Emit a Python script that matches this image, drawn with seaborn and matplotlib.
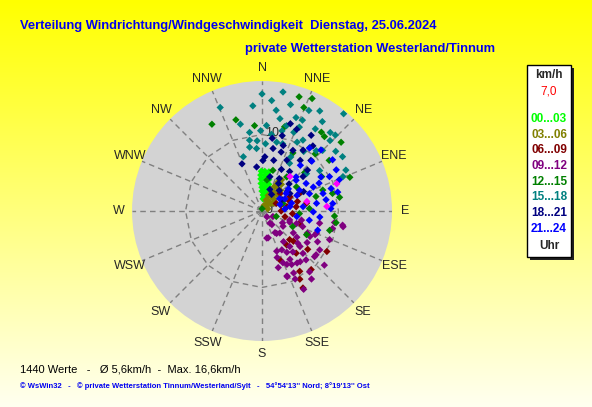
import matplotlib
matplotlib.use("Agg")
import matplotlib.pyplot as plt
import matplotlib.patches as mpatches
import numpy as np
import pandas as pd
import seaborn as sns

h00_dir = [359, 4, 10, 358, 5, 11, 358, 5, 12, 358, 6, 14, 0, 9, 18, 0, 11, 22, 4, 17, 5, 23]
h00_spd = [5.2, 5.2, 5.2, 4.7, 4.7, 4.7, 4.2, 4.2, 4.2, 3.6, 3.6, 3.6, 3.1, 3.1, 3.1, 2.6, 2.6, 2.6, 2.1, 2.1, 1.6, 1.6]

h03_dir = [20, 45, 70, 20, 35, 50, 22, 33, 45, 25, 35, 45, 27, 35, 42, 29, 36, 32, 40, 55]
h03_spd = [0.8, 0.8, 0.8, 1.5, 1.5, 1.5, 2.2, 2.2, 2.2, 2.9, 2.9, 2.9, 3.6, 3.6, 3.6, 4.3, 4.3, 4.8, 1.2, 1.8]

h06_dir = [62, 63, 63, 65, 80, 83, 80, 46, 104, 72, 90, 75, 70, 95,
           160, 148, 140, 152, 122, 151, 130, 136, 144, 108, 141, 134]
h06_spd = [2.1, 3.1, 4.1, 5.4, 3.3, 4.5, 5.9, 3.3, 3.1, 2.6, 2.5, 4.8, 3.8, 4.0,
           6.8, 9.3, 10.0, 11.4, 10.0, 10.2, 7.8, 5.2, 5.5, 5.2, 7.1, 5.7]

h09_dir = [117, 147, 170, 147, 126, 108, 110, 111, 125, 145, 142, 133, 118, 112, 104, 101,
           113, 124, 150, 146, 159, 153, 152, 144, 138, 131, 131, 160, 158, 136,
           167, 144, 141, 149, 162, 164, 151, 159, 154, 143, 129, 119, 99, 100, 102,
           116, 127, 125, 114, 120, 112, 103, 142, 155, 153, 143, 132, 149, 140]
h09_spd = [1.6, 1.9, 3.6, 3.5, 3.4, 3.8, 4.8, 5.7, 5.0, 4.9, 5.9, 6.8, 7.1, 7.7, 9.5, 10.8,
           9.6, 9.1, 7.3, 8.2, 9.1, 9.1, 11.6, 11.0, 8.6, 10.8, 9.1, 5.6, 7.3, 7.7,
           3.6, 2.2, 3.7, 6.3, 6.4, 7.7, 8.0, 9.2, 9.9, 8.3, 9.1, 8.3, 9.6, 10.7, 7.7,
           6.6, 5.7, 7.2, 7.6, 3.1, 3.9, 5.3, 10.1, 7.7, 5.7, 6.7, 6.3, 3.3, 1.0]

h12_dir = [330, 344, 18, 24, 355, 15, 22, 37, 40, 49, 69, 80, 94, 99, 106, 118, 117,
           43, 53, 15, 36, 55, 75, 87, 70, 0, 111, 94, 71, 9, 76, 28, 60, 48]
h12_spd = [13.1, 12.4, 15.7, 16.1, 11.2, 11.4, 14.6, 12.9, 12.7, 13.7, 12.3, 10.3, 9.5, 9.8, 9.2, 6.6, 4.5,
           10.2, 11.0, 5.5, 5.5, 5.5, 7.3, 6.2, 2.9, 0.3, 2.0, 4.9, 8.4, 4.1, 9.5, 8.6, 9.0, 7.5]

h15_dir = [0, 338, 355, 8, 15, 25, 30, 40, 20, 24, 11, 16, 24, 33, 34, 41, 44,
           351, 350, 349, 356, 355, 3, 12, 17, 27, 30, 37, 42, 45, 44, 51, 56, 64, 67,
           341, 55, 50, 30, 3, 14, 7, 22, 359, 346, 5, 10, 28, 35]
h15_spd = [15.3, 14.6, 13.8, 13.3, 14.4, 14.5, 15.1, 16.6, 13.0, 13.0, 12.3, 11.6, 12.0, 12.8, 14.1, 13.6, 13.8,
           10.4, 9.4, 8.5, 9.2, 8.2, 8.8, 9.2, 9.2, 10.1, 10.7, 10.4, 10.6, 11.2, 12.8, 12.4, 12.7, 12.2, 11.5,
           7.5, 9.2, 7.6, 7.2, 11.2, 10.8, 10.1, 11.1, 10.5, 11.7, 14.5, 15.8, 8.0, 9.5]

h18_dir = [337, 353, 3, 10, 18, 27, 13, 25, 35, 37, 44, 33, 18, 23, 13, 31, 58, 50, 18, 1, 26, 34,
           40, 45, 52, 20, 30, 60, 15, 8, 38, 48, 65, 28]
h18_spd = [6.7, 5.8, 7.1, 8.3, 9.0, 8.9, 6.8, 6.0, 6.3, 8.3, 9.2, 11.8, 12.0, 11.6, 4.6, 4.2, 4.3, 7.0, 8.1, 6.6, 7.4, 9.6,
           3.5, 5.0, 4.2, 3.0, 2.5, 3.0, 10.2, 9.6, 10.8, 8.0, 6.0, 4.8]

h21_dir = [61, 68, 63, 64, 74, 80, 82, 70, 61, 81, 84, 91, 96, 109, 84, 37, 44, 54, 45, 54, 101, 99,
           60, 65, 76, 50, 55, 70, 75, 85, 40, 45, 58, 66, 72, 88, 62, 48]
h21_spd = [11.1, 10.9, 9.9, 8.3, 8.3, 8.5, 7.2, 6.6, 5.6, 3.7, 5.4, 6.7, 7.6, 7.7, 9.3, 10.3, 11.1, 11.4, 6.3, 3.9, 6.3, 4.6,
           8.9, 7.4, 10.2, 4.5, 2.8, 2.5, 4.0, 3.0, 7.8, 9.2, 6.8, 5.0, 9.5, 9.0, 3.4, 6.0]

mag_dir = [70, 86, 39, 78]
mag_spd = [10.4, 8.5, 5.8, 6.0]

groups = ["00...03", "03...06", "06...09", "09...12", "12...15", "15...18", "18...21", "21...24"]
colors = ["#00FF00", "#808000", "#800000", "#800080", "#008000", "#008080", "#000080", "#0000FF"]
dirs = [h00_dir, h03_dir, h06_dir, h09_dir, h12_dir, h15_dir, h18_dir, h21_dir]
spds = [h00_spd, h03_spd, h06_spd, h09_spd, h12_spd, h15_spd, h18_spd, h21_spd]

compass = ["N", "NNE", "NE", "ENE", "E", "ESE", "SE", "SSE",
           "S", "SSW", "SW", "WSW", "W", "WNW", "NW", "NNW"]
compass_deg = np.arange(16) * 22.5

rows = []
for g, d, s in zip(groups, dirs, spds):
    for a, v in zip(d, s):
        rows.append((g, np.radians(a), v))
for a, v in zip(mag_dir, mag_spd):
    rows.append(("mag", np.radians(a), v))
df = pd.DataFrame(rows, columns=["zeit", "theta", "speed"])

palette = dict(zip(groups, colors))
palette["mag"] = "#FF00FF"

sns.set_style("white")
plt.rcParams["font.family"] = ["Liberation Sans", "DejaVu Sans"]

fig = plt.figure(figsize=(5.92, 4.07), dpi=100)

# Hintergrund Farbverlauf gelb -> hell
bg = fig.add_axes([0, 0, 1, 1])
grad = np.linspace(0, 1, 256)
cols = np.ones((256, 1, 3))
cols[:, 0, 2] = grad * 0.94
bg.imshow(cols, aspect="auto", extent=[0, 1, 0, 1], origin="upper")
bg.set_axis_off()

ax = fig.add_axes([0.2230, 0.1622, 0.4392, 0.6388], projection="polar")
ax.set_facecolor("#d3d3d3")
ax.spines["polar"].set_visible(False)
ax.set_theta_zero_location("N")
ax.set_theta_direction(-1)
ax.set_ylim(0, 17)
ax.set_xticks(np.radians(compass_deg))
ax.set_xticklabels([])
ax.set_yticks([])
ax.xaxis.grid(True, color="#808080", linestyle=(0, (4, 3)), linewidth=1)
ax.yaxis.grid(False)

ring_t = np.radians(np.append(compass_deg, 0))
ax.plot(ring_t, np.full(len(ring_t), 10.0), color="#808080", ls=(0, (4, 3)), lw=1, zorder=1)
ax.plot(ring_t, np.full(len(ring_t), 0.7), color="#808080", ls=(0, (2, 2)), lw=1, zorder=1)

sns.scatterplot(data=df, x="theta", y="speed", hue="zeit", palette=palette,
                marker="D", s=14, linewidth=0, legend=False, ax=ax, zorder=3)
ax.set_xlabel("")
ax.set_ylabel("")

ax.text(np.radians(7), 10.3, "10", fontsize=9, ha="center", va="center", zorder=2)
ax.text(np.radians(80), 0.9, "0", fontsize=9, ha="center", va="center", zorder=2)

for lab, deg in zip(compass, compass_deg):
    ax.text(np.radians(deg), 18.7, lab, fontsize=9, ha="center", va="center", clip_on=False)

# Titel
fig.text(20 / 592, 1 - 26 / 407, "Verteilung Windrichtung/Windgeschwindigkeit  Dienstag, 25.06.2024",
         color="#0000F0", fontsize=9.3, fontweight="bold", va="center")
fig.text(245 / 592, 1 - 49 / 407, "private Wetterstation Westerland/Tinnum",
         color="#0000F0", fontsize=9.3, fontweight="bold", va="center")

# Legende
fig.patches.append(mpatches.Rectangle((530 / 592, (407 - 260) / 407), 44 / 592, 192 / 407,
                                      transform=fig.transFigure, facecolor="#202020", edgecolor="none", zorder=1))
fig.patches.append(mpatches.Rectangle((527 / 592, (407 - 257) / 407), 44 / 592, 192 / 407,
                                      transform=fig.transFigure, facecolor="white", edgecolor="black",
                                      linewidth=1, zorder=2))
lx = 549 / 592
fig.text(lx, 1 - 75 / 407, "km/h", fontsize=8.5, fontweight="bold", ha="center", va="center", zorder=3)
fig.text(lx, 1 - 92 / 407, "7,0", fontsize=8.5, color="red", ha="center", va="center", zorder=3)
for i, (g, c) in enumerate(zip(groups, colors)):
    fig.text(lx, 1 - (119 + i * 15.7) / 407, g, fontsize=8.5, fontweight="bold", color=c,
             ha="center", va="center", zorder=3)
fig.text(lx, 1 - 246 / 407, "Uhr", fontsize=8.5, fontweight="bold", ha="center", va="center", zorder=3)

# Fußzeilen
fig.text(20 / 592, 1 - 369 / 407, "1440 Werte   -   \u00d8 5,6km/h  -  Max. 16,6km/h",
         fontsize=8, color="black", va="center")
fig.text(20 / 592, 1 - 386 / 407,
         "\u00a9 WsWin32   -   \u00a9 private Wetterstation Tinnum/Westerland/Sylt   -   54\u00b054'13'' Nord; 8\u00b019'13'' Ost",
         fontsize=5.5, fontweight="bold", color="#0000F0", va="center")

fig.savefig("out.png", dpi=100)
